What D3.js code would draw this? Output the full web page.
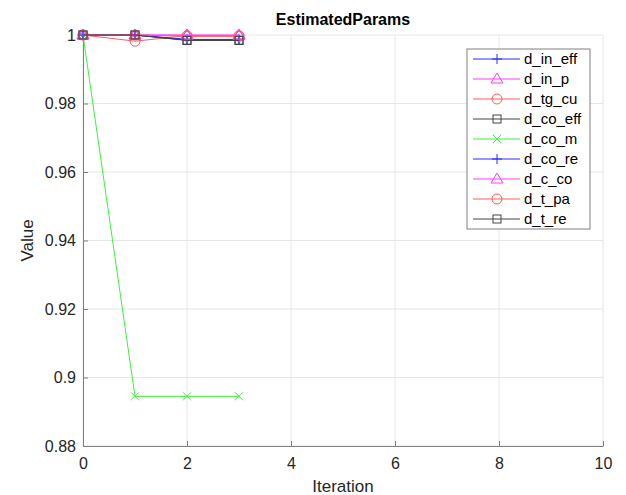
<!DOCTYPE html>
<html>
<head>
<meta charset="utf-8" />
<script src="https://d3js.org/d3.v7.min.js"></script>
<style>
  body { margin: 0; background: #fff; }
  text { font-family: "Liberation Sans", Arial, sans-serif; }
</style>
</head>
<body>
<script>
  var iterations = [0, 1, 2, 3];
  var names = ["d_in_eff", "d_in_p", "d_tg_cu", "d_co_eff", "d_co_m", "d_co_re", "d_c_co", "d_t_pa", "d_t_re"];
  var d_in_eff = [1, 1, 0.9986, 0.9986];
  var d_in_p   = [1, 1, 1, 1];
  var d_tg_cu  = [1, 0.9982, 0.9998, 0.9998];
  var d_co_eff = [1, 1, 0.9985, 0.9985];
  var d_co_m   = [1, 0.8945, 0.8945, 0.8945];
  var d_co_re  = [1, 1, 0.9987, 0.9987];
  var d_c_co   = [1, 1, 0.9999, 0.9999];
  var d_t_pa   = [1, 1, 0.9996, 0.9996];
  var d_t_re   = [1, 1, 0.9984, 0.9984];
  var xTicks = [0, 2, 4, 6, 8, 10];
  var yTicks = [0.88, 0.9, 0.92, 0.94, 0.96, 0.98, 1];

  var values = [d_in_eff, d_in_p, d_tg_cu, d_co_eff, d_co_m, d_co_re, d_c_co, d_t_pa, d_t_re];
  var colors = ["#2b2bff", "#ff3dff", "#ff5c5c", "#444", "#3df03d", "#2b2bff", "#ff3dff", "#ff5c5c", "#444"];
  var markers = ["plus", "tri", "circle", "square", "cross", "plus", "tri", "circle", "square"];

  var width = 626, height = 495;
  var pLeft = 83, pRight = 603, pTop = 35, pBottom = 446;

  var svg = d3.select("body").append("svg")
    .attr("width", width).attr("height", height);

  var x = d3.scaleLinear().domain([0, 10]).range([pLeft, pRight]);
  var y = d3.scaleLinear().domain([0.88, 1]).range([pBottom, pTop]);

  // grid
  svg.append("g").selectAll("line").data(xTicks).join("line")
    .attr("x1", d => x(d)).attr("x2", d => x(d))
    .attr("y1", pTop).attr("y2", pBottom)
    .attr("stroke", "#e6e6e6").attr("stroke-width", 1);
  svg.append("g").selectAll("line").data(yTicks).join("line")
    .attr("x1", pLeft).attr("x2", pRight)
    .attr("y1", d => y(d)).attr("y2", d => y(d))
    .attr("stroke", "#e6e6e6").attr("stroke-width", 1);

  // axes (MATLAB style, ticks inward)
  var xAxis = svg.append("g").attr("transform", "translate(0," + pBottom + ")")
    .call(d3.axisBottom(x).tickValues(xTicks).tickFormat(d3.format("d")).tickSizeInner(-5).tickSizeOuter(0).tickPadding(12));
  var yAxis = svg.append("g").attr("transform", "translate(" + pLeft + ",0)")
    .call(d3.axisLeft(y).tickValues(yTicks).tickFormat(d => d === 1 ? "1" : d3.format(".2~f")(d)).tickSizeInner(-5).tickSizeOuter(0).tickPadding(7));
  [xAxis, yAxis].forEach(function (a) {
    a.select(".domain").attr("stroke", "#808080");
    a.selectAll(".tick line").attr("stroke", "#808080");
    a.selectAll(".tick text").attr("fill", "#262626").style("font-size", "16px")
      .style("font-family", "Liberation Sans, Arial, sans-serif");
  });

  // marker drawing
  function drawMarker(g, type, cx, cy, color) {
    if (type === "plus") {
      g.append("path").attr("d", "M" + (cx - 5) + "," + cy + "H" + (cx + 5) + "M" + cx + "," + (cy - 5) + "V" + (cy + 5))
        .attr("stroke", color).attr("fill", "none");
    } else if (type === "cross") {
      g.append("path").attr("d", "M" + (cx - 4) + "," + (cy - 4) + "L" + (cx + 4) + "," + (cy + 4) + "M" + (cx - 4) + "," + (cy + 4) + "L" + (cx + 4) + "," + (cy - 4))
        .attr("stroke", color).attr("fill", "none");
    } else if (type === "circle") {
      g.append("circle").attr("cx", cx).attr("cy", cy).attr("r", 5)
        .attr("stroke", color).attr("fill", "none");
    } else if (type === "square") {
      g.append("rect").attr("x", cx - 4).attr("y", cy - 4).attr("width", 8).attr("height", 8)
        .attr("stroke", color).attr("fill", "none");
    } else if (type === "tri") {
      g.append("path").attr("d", "M" + cx + "," + (cy - 6) + "L" + (cx + 6) + "," + (cy + 4) + "L" + (cx - 6) + "," + (cy + 4) + "Z")
        .attr("stroke", color).attr("fill", "none");
    }
  }

  var line = d3.line().x((d, i) => x(iterations[i])).y(d => y(d));
  var plot = svg.append("g");
  values.forEach(function (vals, k) {
    var g = plot.append("g");
    g.append("path").datum(vals).attr("d", line)
      .attr("fill", "none").attr("stroke", colors[k]).attr("stroke-width", 1);
    vals.forEach(function (v, i) {
      drawMarker(g, markers[k], x(iterations[i]), y(v), colors[k]);
    });
  });

  // title and labels
  svg.append("text").attr("x", (pLeft + pRight) / 2).attr("y", 25)
    .attr("text-anchor", "middle").style("font-size", "16px").style("font-weight", "bold")
    .attr("fill", "#000").text("EstimatedParams");
  svg.append("text").attr("x", (pLeft + pRight) / 2).attr("y", 492)
    .attr("text-anchor", "middle").style("font-size", "17px").attr("fill", "#262626").text("Iteration");
  svg.append("text").attr("transform", "translate(33," + ((pTop + pBottom) / 2) + ") rotate(-90)")
    .attr("text-anchor", "middle").style("font-size", "17px").attr("fill", "#262626").text("Value");

  // legend
  var lg = svg.append("g");
  var lx = 467, ly = 49, lw = 123, lh = 180;
  lg.append("rect").attr("x", lx).attr("y", ly).attr("width", lw).attr("height", lh)
    .attr("fill", "#fff").attr("stroke", "#808080");
  names.forEach(function (n, k) {
    var ry = ly + 10 + k * 20;
    lg.append("line").attr("x1", lx + 6).attr("x2", lx + 53).attr("y1", ry).attr("y2", ry)
      .attr("stroke", colors[k]);
    drawMarker(lg, markers[k], lx + 30, ry, colors[k]);
    lg.append("text").attr("x", lx + 57).attr("y", ry + 5).style("font-size", "15px")
      .attr("fill", "#000").text(n);
  });
</script>
</body>
</html>
